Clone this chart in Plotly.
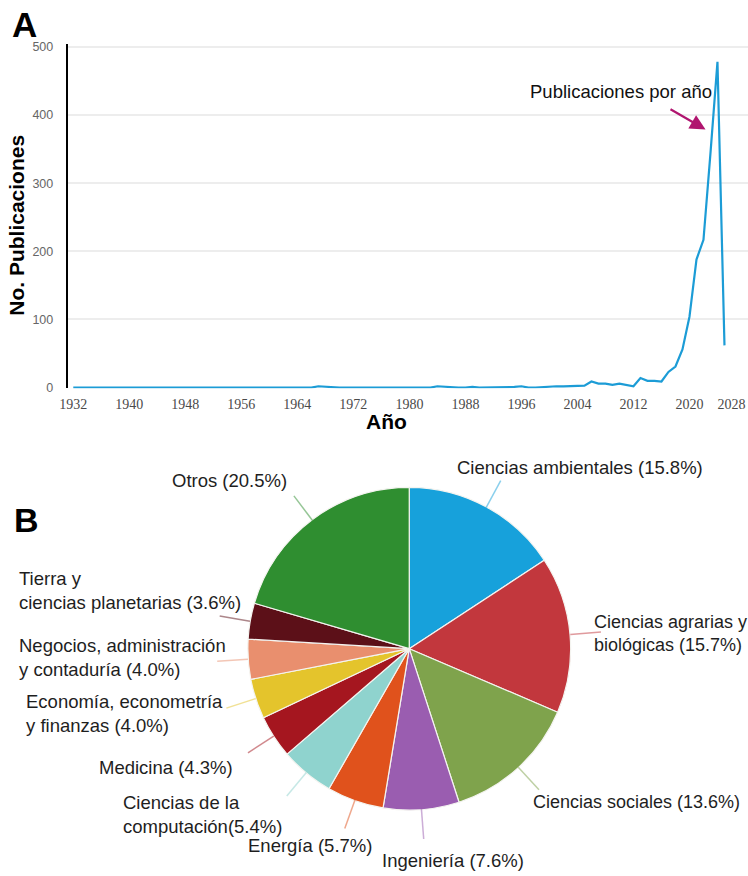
import math
import plotly.graph_objects as go

W, H = 748, 876

# ---------------- data: panel A ----------------
years = list(range(1932, 2026))
publicaciones = [
    0, 0, 0, 0, 0, 0, 0, 0, 0, 0,        # 1932-1941
    0, 0, 1, 0, 0, 0, 0, 1, 0, 0,        # 1942-1951
    0, 0, 0, 0, 0, 0, 0, 0, 0, 0,        # 1952-1961
    0, 0, 0, 0, 0, 2, 1, 1, 0, 0,        # 1962-1971
    0, 0, 1, 0, 0, 0, 0, 0, 0, 0,        # 1972-1981
    0, 0, 2, 1, 0, 0, 0, 1, 0, 0,        # 1982-1991
    1, 0, 0, 1, 2, 0, 0, 1, 1, 2,        # 1992-2001
    2, 2, 2, 3, 9, 6, 6, 4, 6, 4,        # 2002-2011
    2, 14, 10, 10, 9, 23, 31, 56, 104, 188,  # 2012-2021
    217, 344, 478, 62                    # 2022-2025
]
x_ticks = [1932, 1940, 1948, 1956, 1964, 1972, 1980, 1988, 1996, 2004, 2012, 2020, 2028]
y_ticks = [0, 100, 200, 300, 400, 500]

# ---------------- data: panel B ----------------
areas = ["Ciencias ambientales", "Ciencias agrarias y biológicas", "Ciencias sociales",
         "Ingeniería", "Energía", "Ciencias de la computación", "Medicina",
         "Economía, econometría y finanzas", "Negocios, administración y contaduría",
         "Tierra y ciencias planetarias", "Otros"]
porcentajes = [15.8, 15.7, 13.6, 7.6, 5.7, 5.4, 4.3, 4.0, 4.0, 3.6, 20.5]
etiquetas = ["Ciencias ambientales (15.8%)",
             "Ciencias agrarias y<br>biológicas (15.7%)",
             "Ciencias sociales (13.6%)",
             "Ingeniería (7.6%)",
             "Energía (5.7%)",
             "Ciencias de la<br>computación(5.4%)",
             "Medicina (4.3%)",
             "Economía, econometría<br>y finanzas (4.0%)",
             "Negocios, administración<br>y contaduría (4.0%)",
             "Tierra y<br>ciencias planetarias (3.6%)",
             "Otros (20.5%)"]
colores = ["#17a1db", "#c2373d", "#7fa34c", "#9a5db0", "#e0521c", "#8fd3ce",
           "#a5161f", "#e4c42c", "#e98f6e", "#5c1018", "#2f8e30"]
# label anchor (left x, centre y) and font size, in target-picture pixels
label_pos = [(455, 467), (591, 634), (530, 803), (380, 862), (246, 847), (122, 815),
             (98, 768), (25, 714), (18, 658), (18, 591), (171, 480)]
label_size = [18.5, 18, 18, 18.5, 18.5, 18.5, 18.5, 18.5, 18.5, 18.5, 18.5]

# the photographed page shows the figure slightly shifted/scaled; compensate
SX, OX = 0.985, 8.5
SY, OY = 0.991, 2.0


def fx(X):          # picture px -> figure px
    return (X - OX) / SX


def fy(Y):
    return (Y - OY) / SY


def px(X):          # picture px -> paper coordinate
    return fx(X) / W


def py(Y):
    return 1 - fy(Y) / H


FONT = "Liberation Sans, Arial"
fig = go.Figure()

# ---------- panel A ----------
ax_left = fx(68)
x1932, x2020 = fx(73.5), fx(687)
per_year = (x2020 - x1932) / 88.0
x_left = 1932 - (x1932 - ax_left) / per_year
x_right = 1932 + (W - x1932) / per_year

fig.add_trace(go.Scatter(
    x=years, y=publicaciones, mode="lines",
    line=dict(color="#1c9cd6", width=2.2),
    xaxis="x", yaxis="y", hoverinfo="x+y"))
# same series, invisible, on the overlay axis that carries the last year label
fig.add_trace(go.Scatter(
    x=years, y=publicaciones, mode="lines", opacity=0,
    line=dict(color="#1c9cd6", width=0.1),
    xaxis="x2", yaxis="y", hoverinfo="skip"))

# ---------- panel B ----------
cx, cy, r = 408, 649, 161
rf = r / SX
cfx, cfy = fx(cx), fy(cy)
fig.add_trace(go.Pie(
    labels=areas, values=porcentajes, sort=False, direction="clockwise", rotation=0,
    marker=dict(colors=colores, line=dict(color="#f4f4f0", width=1.2)),
    textinfo="none", hoverinfo="label+percent",
    domain=dict(x=[(cfx - rf) / W, (cfx + rf) / W],
                y=[1 - (cfy + rf) / H, 1 - (cfy - rf) / H]),
    showlegend=False))

shapes = []
annotations = []
total = sum(porcentajes)
cum = 0.0
for v, col in zip(porcentajes, colores):
    mid = (cum + v / 2) / total * 2 * math.pi
    cum += v
    sx, sy = cx + r * math.sin(mid), cy - r * math.cos(mid)
    ex, ey = cx + 1.19 * r * math.sin(mid), cy - 1.19 * r * math.cos(mid)
    shapes.append(dict(type="line", xref="paper", yref="paper",
                       x0=px(sx), y0=py(sy), x1=px(ex), y1=py(ey),
                       line=dict(color=col, width=1.5), opacity=0.5))

for txt, (lx, ly), fs in zip(etiquetas, label_pos, label_size):
    annotations.append(dict(text=txt, xref="paper", yref="paper", x=px(lx), y=py(ly),
                            xanchor="left", yanchor="middle", align="left", showarrow=False,
                            borderpad=0,
                            font=dict(family=FONT, size=fs, color="#1e1e1e")))

# panel letters and titles
annotations += [
    dict(text="<b>A</b>", xref="paper", yref="paper", x=px(25), y=1.0, xanchor="center",
         yanchor="top", showarrow=False, borderpad=0,
         font=dict(family=FONT, size=35, color="black")),
    dict(text="<b>B</b>", xref="paper", yref="paper", x=px(27), y=py(520), xanchor="center",
         yanchor="middle", showarrow=False, font=dict(family=FONT, size=34, color="black")),
    dict(text="<b>No. Publicaciones</b>", xref="paper", yref="paper", x=px(17), y=py(224),
         xanchor="center", yanchor="middle", textangle=-90, showarrow=False,
         font=dict(family=FONT, size=21, color="black")),
    dict(text="<b>Año</b>", xref="paper", yref="paper", x=px(385), y=py(421),
         xanchor="center", yanchor="middle", showarrow=False,
         font=dict(family=FONT, size=21, color="black")),
    dict(text="Publicaciones por año", xref="paper", yref="paper", x=px(710), y=py(90),
         xanchor="right", yanchor="middle", showarrow=False, borderpad=0,
         font=dict(family=FONT, size=18.5, color="#111")),
    dict(text="", xref="paper", yref="paper", x=px(703), y=py(128),
         ax=-36 / SX, ay=-21 / SY,
         showarrow=True, arrowhead=2, arrowsize=1.4, arrowwidth=2.2, arrowcolor="#b0156f"),
]

xtick_font = dict(family="Liberation Serif, DejaVu Serif", size=14, color="#4a4a4a")
fig.update_layout(
    width=W, height=H, margin=dict(l=0, r=0, t=0, b=0),
    paper_bgcolor="white", plot_bgcolor="white", showlegend=False,
    xaxis=dict(domain=[ax_left / W, 1.0], range=[x_left, x_right], tickvals=x_ticks[:-1],
               showgrid=False, zeroline=False, showline=False, ticks="",
               ticklabelstandoff=6, tickfont=xtick_font),
    # last year label sits at the right edge: right-aligned on its tick so it stays visible
    xaxis2=dict(domain=[ax_left / W, 1.0], range=[x_left, x_right], tickvals=x_ticks[-1:],
                overlaying="x", anchor="y", side="bottom",
                ticklabelposition="outside left",
                showgrid=False, zeroline=False, showline=False, ticks="",
                ticklabelstandoff=6, tickfont=xtick_font),
    yaxis=dict(domain=[py(387.7), py(42.3)], range=[-1, 504], tickvals=y_ticks,
               showgrid=True, gridcolor="#ededed", gridwidth=1.5, zeroline=False,
               showline=True, linecolor="black", linewidth=2, ticks="",
               ticklabelstandoff=10,
               tickfont=dict(family=FONT, size=12.5, color="#666")),
    shapes=shapes, annotations=annotations,
)

fig.write_html(
    "out.html",
    config={"displayModeBar": False},
    post_script="document.documentElement.style.margin='0';document.body.style.margin='0';"
                "document.body.style.overflow='hidden';",
)
